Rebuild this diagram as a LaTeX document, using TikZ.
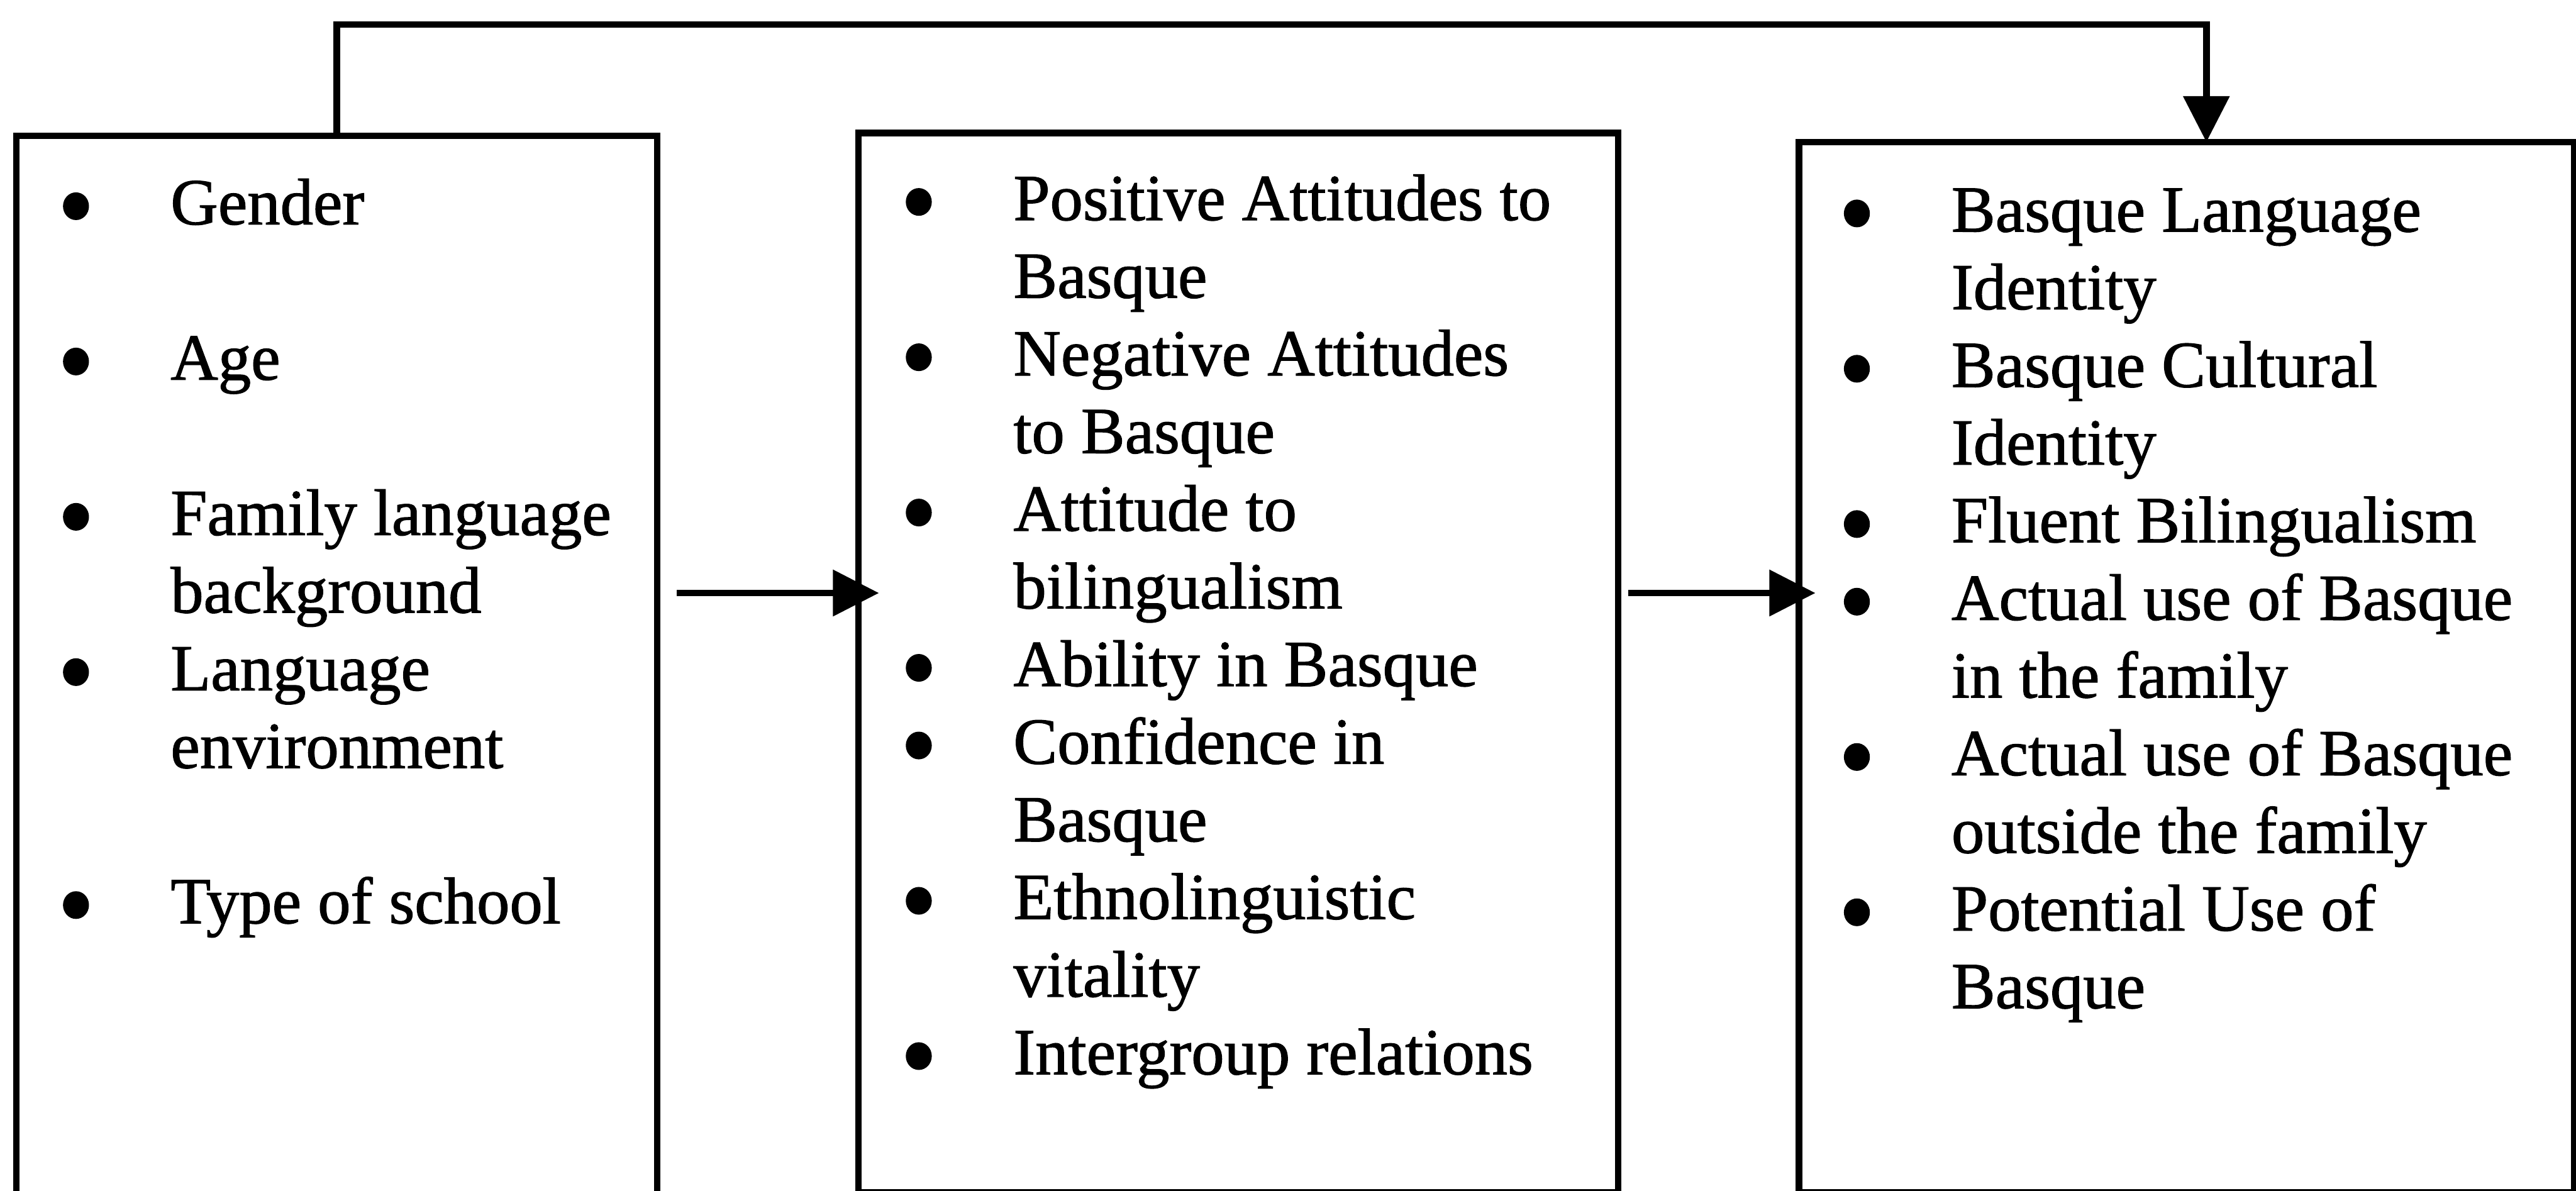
\documentclass[tikz,border=0pt]{standalone}
\usepackage{fontspec}
\setmainfont{Liberation Serif}[FakeBold=1.2]
\usetikzlibrary{arrows.meta, calc}

\newcommand{\bul}{\tikz[baseline=0pt]\fill (4.5pt,6.3pt) ellipse[x radius=4.5pt, y radius=4.8pt];}

\begin{document}
\begin{tikzpicture}[
  x = 0.2mm, y = 0.2mm,
  every node/.style = {font=\fontsize{22.8}{26.9}\selectfont},
  panel/.style = {
    draw, rectangle, line width=0.8mm, outer sep=0pt, inner sep=0pt,
    anchor=north west
  },
  items/.style = {anchor=base west, inner sep=0pt, align=left},
  flow/.style = {-{Triangle[length=5.6mm, width=5.5mm]}, line width=0.8mm}
]
\useasboundingbox (0,0) rectangle (1568,-725);

\node[panel, minimum width=78mm, minimum height=129.3mm] (context) at (10,-82.6) {};
\node[panel, minimum width=92.5mm, minimum height=129mm] (attitudes) at (522.5,-81) {};
\node[panel, minimum width=94.4mm, minimum height=127.9mm] (outcomes) at (1095,-86.5) {};

\node[items] (contextlist) at (38,-136.6) {%
  \begin{tabular}[t]{@{}p{13.1mm}@{}l@{}}
  \bul & Gender \\
       & \\
  \bul & Age \\
       & \\
  \bul & Family language \\
       & background \\
  \bul & Language \\
       & environment \\
       & \\
  \bul & Type of school \\
  \end{tabular}};

\node[items] (attitudeslist) at (551,-134) {%
  \begin{tabular}[t]{@{}p{13.1mm}@{}l@{}}
  \bul & Positive Attitudes to \\
       & Basque \\
  \bul & Negative Attitudes \\
       & to Basque \\
  \bul & Attitude to \\
       & bilingualism \\
  \bul & Ability in Basque \\
  \bul & Confidence in \\
       & Basque \\
  \bul & Ethnolinguistic \\
       & vitality \\
  \bul & Intergroup relations \\
  \end{tabular}};

\node[items] (outcomeslist) at (1122,-141) {%
  \begin{tabular}[t]{@{}p{13.1mm}@{}l@{}}
  \bul & Basque Language \\
       & Identity \\
  \bul & Basque Cultural \\
       & Identity \\
  \bul & Fluent Bilingualism \\
  \bul & Actual use of Basque \\
       & in the family \\
  \bul & Actual use of Basque \\
       & outside the family \\
  \bul & Potential Use of \\
       & Basque \\
  \end{tabular}};

\coordinate (level) at (0,-361);

\draw[flow] ($(context.east |- level)+(12,0)$) -- ($(attitudes.west |- level)+(12.5,0)$);
\draw[flow] ($(attitudes.east |- level)+(6,0)$) -- ($(outcomes.west |- level)+(10,0)$);

% Direct path from the first panel to the last one.
\draw[flow] (context.north) |- ($(outcomes.north)+(12,71.5)$) -- ($(outcomes.north)+(12,0)$);

\end{tikzpicture}
\end{document}
